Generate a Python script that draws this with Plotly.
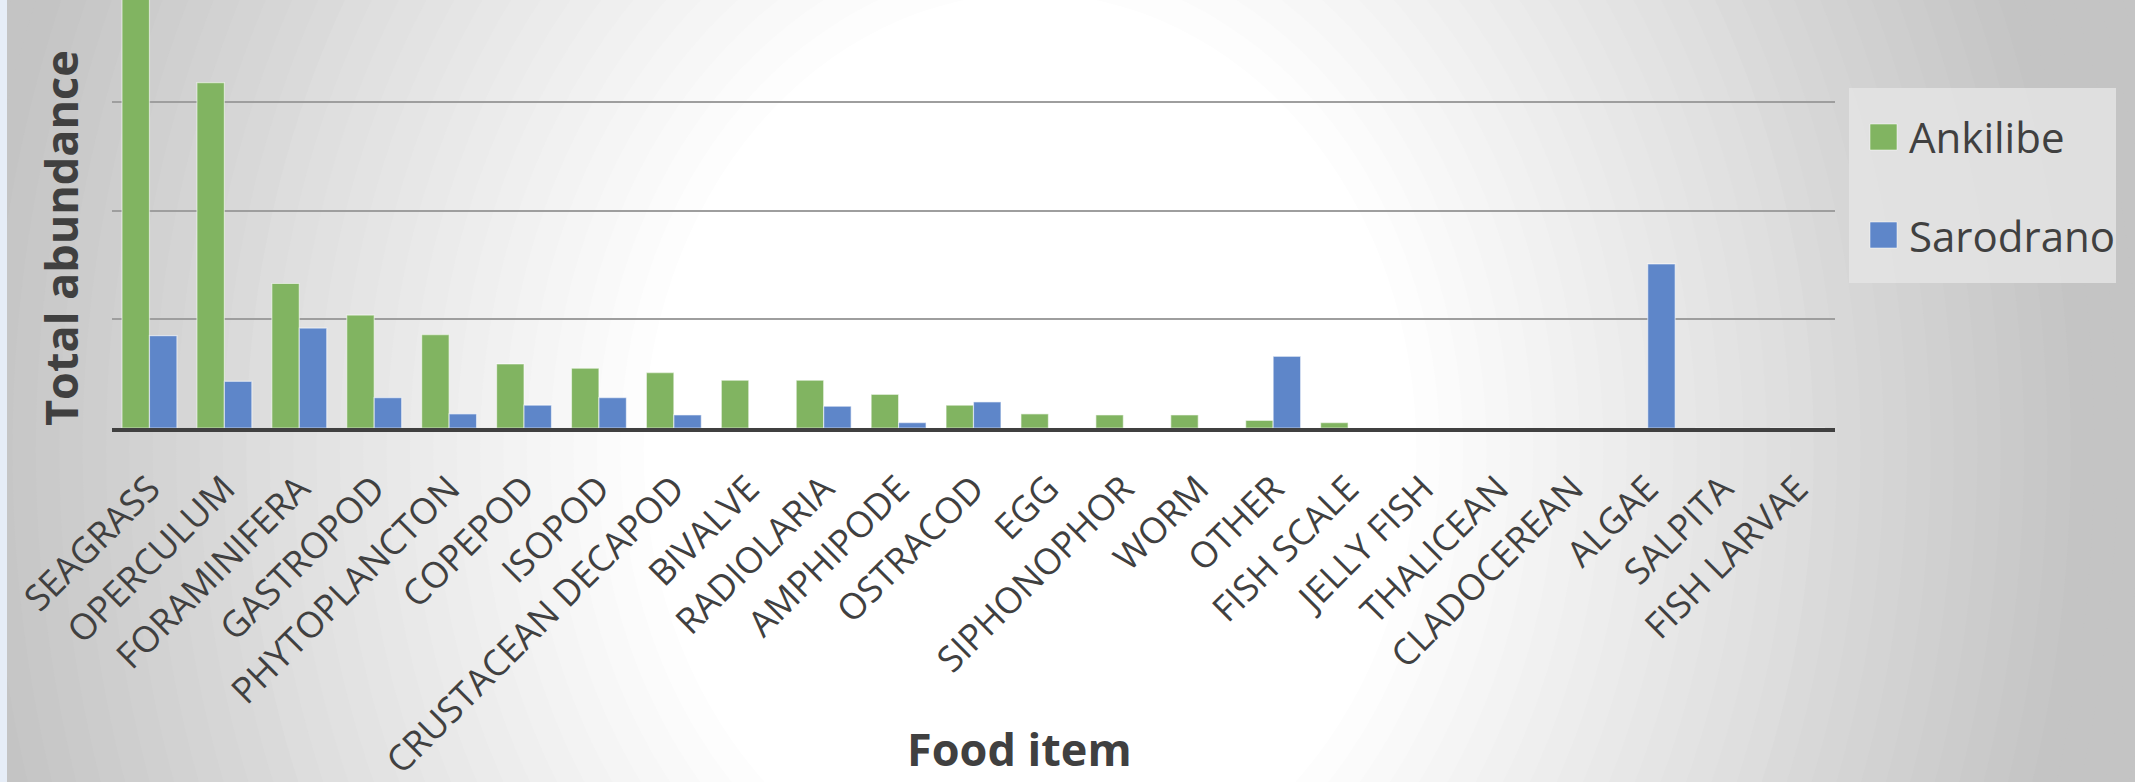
import plotly.graph_objects as go

# ---------------- data ----------------
food_items = ["SEAGRASS", "OPERCULUM", "FORAMINIFERA", "GASTROPOD", "PHYTOPLANCTON",
              "COPEPOD", "ISOPOD", "CRUSTACEAN DECAPOD", "BIVALVE", "RADIOLARIA",
              "AMPHIPODE", "OSTRACOD", "EGG", "SIPHONOPHOR", "WORM", "OTHER",
              "FISH SCALE", "JELLY FISH", "THALICEAN", "CLADOCEREAN", "ALGAE",
              "SALPITA", "FISH LARVAE"]
ankilibe = [420, 318, 133, 104, 86, 59, 55, 51, 44, 44, 31, 21, 13, 12, 12, 7,
            5, 0, 0, 0, 0, 0, 0]
sarodrano = [85, 43, 92, 28, 13, 21, 28, 12, 0, 20, 5, 24, 0, 0, 0, 66,
             0, 0, 0, 0, 151, 0, 0]
series_names = ["Ankilibe", "Sarodrano"]
series_colors = ["#81B461", "#5E86C9"]

# ---------------- layout geometry ----------------
W, H = 2135, 782
L, R, T, B = 112, 300, 0, 354
PW, PH = W - L - R, H - T - B


def px2x(px):
    return (px - L) / PW


def px2y(py):
    return (H - B - py) / PH


fig = go.Figure()
for name, vals, col in zip(series_names, [ankilibe, sarodrano], series_colors):
    fig.add_trace(go.Bar(
        x=food_items, y=vals, name=name, showlegend=False,
        marker=dict(color=col, line=dict(color="rgba(255,255,255,0.55)", width=1.2)),
    ))

shapes = []
# background radial gradient (concentric ellipses)
cx, cy, rx, ry = 1030, 450, 1100, 1300
N = 48
r_max, r_min = 1.35, 0.33
for i in range(N + 1):
    r = r_max - (r_max - r_min) * i / N
    t = min(max((r - 0.35) / 0.62, 0), 1)
    v = int(round(255 - 59 * t))
    col = f"rgb({v},{v},{v})"
    shapes.append(dict(type="circle", xref="paper", yref="paper", layer="below",
                       x0=px2x(cx - r * rx), x1=px2x(cx + r * rx),
                       y0=px2y(cy + r * ry), y1=px2y(cy - r * ry),
                       fillcolor=col, line=dict(width=0)))
# light blue strip on left edge
shapes.append(dict(type="rect", xref="paper", yref="paper", layer="below",
                   x0=px2x(0), x1=px2x(7), y0=px2y(H), y1=px2y(0),
                   fillcolor="#E6EDF7", line=dict(width=0)))
# legend box and symbols
shapes.append(dict(type="rect", xref="paper", yref="paper", layer="above",
                   x0=px2x(1849), x1=px2x(2116), y0=px2y(283), y1=px2y(88),
                   fillcolor="rgba(228,228,228,0.85)", line=dict(width=0)))
sym_y = [137, 235]
for yy, col in zip(sym_y, series_colors):
    shapes.append(dict(type="rect", xref="paper", yref="paper", layer="above",
                       x0=px2x(1870), x1=px2x(1897), y0=px2y(yy + 13), y1=px2y(yy - 13),
                       fillcolor=col, line=dict(color="rgba(255,255,255,0.5)", width=1)))

annotations = [
    dict(text="Food item", xref="paper", yref="paper", x=px2x(1020), y=px2y(781),
         xanchor="center", yanchor="bottom", showarrow=False,
         font=dict(family="Open Sans", size=45, color="#404040", weight="bold")),
    dict(text="Total abundance", xref="paper", yref="paper", x=px2x(60), y=px2y(238),
         xanchor="center", yanchor="middle", showarrow=False, textangle=-90,
         font=dict(family="Open Sans", size=45, color="#404040", weight="bold")),
]
for yy, name in zip(sym_y, series_names):
    annotations.append(dict(text=name, xref="paper", yref="paper", x=px2x(1907), y=px2y(yy),
                            xanchor="left", yanchor="middle", showarrow=False,
                            font=dict(family="Open Sans", size=42, color="#404040")))

fig.update_layout(
    width=W, height=H,
    margin=dict(l=L, r=R, t=T, b=B, autoexpand=False),
    paper_bgcolor="#C6C6C6",
    plot_bgcolor="rgba(0,0,0,0)",
    barmode="group", bargap=0.267, bargroupgap=0.0,
    shapes=shapes, annotations=annotations,
    xaxis=dict(
        type="category", tickangle=-45, showgrid=False, ticks="",
        tickfont=dict(family="Open Sans", size=36, color="#404040"),
        showline=True, linecolor="#404040", linewidth=4,
        ticklabelstandoff=21, automargin=False,
    ),
    yaxis=dict(
        range=[0, 394], dtick=100, showticklabels=False, ticks="",
        showgrid=True, gridcolor="#9E9E9E", gridwidth=1.6, zeroline=False,
        automargin=False,
    ),
)

fig.write_html("out.html")
